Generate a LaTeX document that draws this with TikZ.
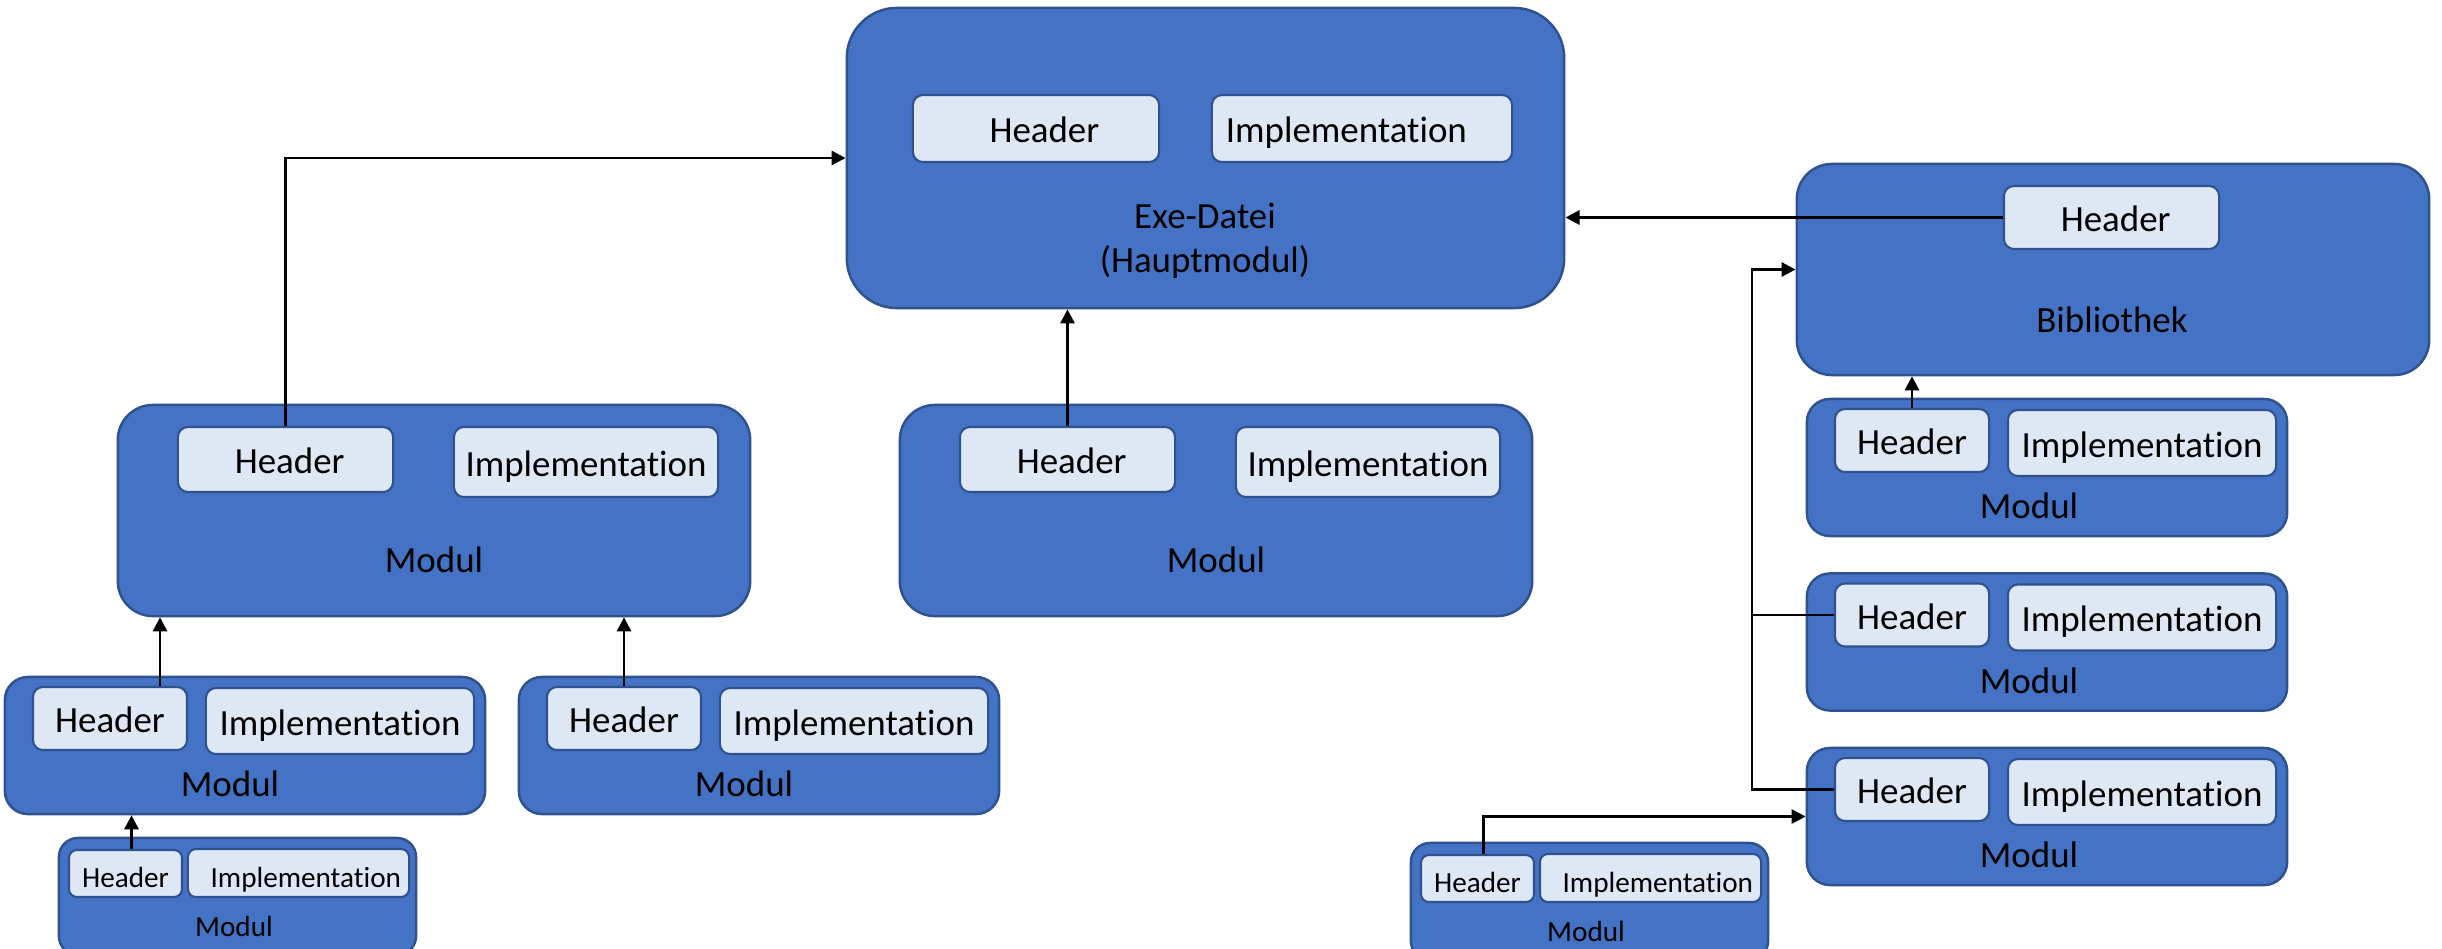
\documentclass[tikz,border=0pt]{standalone}
\usepackage{fontspec}
\setmainfont{Carlito}[Ligatures=NoCommon]
\usetikzlibrary{arrows.meta}

\definecolor{modblue}{HTML}{4472C4}
\definecolor{modedge}{HTML}{2F528F}
\definecolor{partfill}{HTML}{DEE8F5}

\newcommand{\modfont}{\fontsize{10.5}{12.4}\selectfont}
\newcommand{\modfontsmall}{\fontsize{8.3}{10}\selectfont}

\begin{document}
\begin{tikzpicture}[x=0.01cm,y=-0.01cm,
    modbox/.style={draw=modedge,fill=modblue,line width=0.7pt,inner sep=0pt},
    partbox/.style={draw=modedge,fill=partfill,line width=0.6pt,inner sep=0pt,
                    rounded corners=0.1cm,font=\modfont,text height=1em,text depth=0.2em},
    lbl/.style={inner sep=0pt,font=\modfont},
    arr/.style={line width=0.8pt,-{Triangle[length=4pt,width=4pt]}}]
  \useasboundingbox (0,0) rectangle (2442,948);

  % main executable
  \node[modbox,rounded corners=0.5cm,minimum width=7.17cm,minimum height=3cm]
        (exe) at (1205.5,158) {};
  \node[partbox,minimum width=2.46cm,minimum height=0.67cm] (exeH) at (1036,128.5) {~~Header};
  \node[partbox,minimum width=3cm,minimum height=0.67cm,text width=2.72cm,align=left]
        (exeI) at (1362,128.5) {Implementation};
  \node[lbl,align=center] (exeL) at (1205,241) {Exe-Datei\\(Hauptmodul)};

  % library, only its header is visible
  \node[modbox,rounded corners=0.35cm,minimum width=6.32cm,minimum height=2.11cm]
        (bib) at (2113,269.5) {};
  \node[partbox,minimum width=2.15cm,minimum height=0.63cm] (bibH) at (2111.5,217.5) {~Header};
  \node[lbl] (bibL) at (2112,320) {Bibliothek};

  % big modules below the exe
  \node[modbox,rounded corners=0.35cm,minimum width=6.32cm,minimum height=2.11cm]
        (mL) at (434,510.5) {};
  \node[partbox,minimum width=2.15cm,minimum height=0.65cm] (mLH) at (285.5,459.5) {~Header};
  \node[partbox,minimum width=2.64cm,minimum height=0.7cm] (mLI) at (586,462) {Implementation};
  \node[lbl] (mLL) at (434,560) {Modul};

  \node[modbox,rounded corners=0.35cm,minimum width=6.32cm,minimum height=2.11cm]
        (mM) at (1216,510.5) {};
  \node[partbox,minimum width=2.15cm,minimum height=0.65cm] (mMH) at (1067.5,459.5) {~Header};
  \node[partbox,minimum width=2.64cm,minimum height=0.7cm] (mMI) at (1368,462) {Implementation};
  \node[lbl] (mML) at (1216,560) {Modul};

  % modules under the left one
  \node[modbox,rounded corners=0.23cm,minimum width=4.8cm,minimum height=1.37cm]
        (mL1) at (245,745.5) {};
  \node[partbox,minimum width=1.54cm,minimum height=0.63cm] (mL1H) at (110,718.5) {Header};
  \node[partbox,minimum width=2.68cm,minimum height=0.66cm] (mL1I) at (340,721) {Implementation};
  \node[lbl] (mL1L) at (230,784) {Modul};

  \node[modbox,rounded corners=0.23cm,minimum width=4.8cm,minimum height=1.37cm]
        (mL2) at (759,745.5) {};
  \node[partbox,minimum width=1.54cm,minimum height=0.63cm] (mL2H) at (624,718.5) {Header};
  \node[partbox,minimum width=2.68cm,minimum height=0.66cm] (mL2I) at (854,721) {Implementation};
  \node[lbl] (mL2L) at (744,784) {Modul};

  % stack of modules using the library
  \foreach \i/\t in {1/399,2/573.5,3/748} {
    \node[modbox,rounded corners=0.23cm,minimum width=4.8cm,minimum height=1.37cm]
          (mR\i) at (2047,\t+68.5) {};
    \node[partbox,minimum width=1.54cm,minimum height=0.63cm] (mR\i H) at (1912,\t+41.5) {Header};
    \node[partbox,minimum width=2.68cm,minimum height=0.66cm] (mR\i I) at (2142,\t+44) {Implementation};
    \node[lbl] (mR\i L) at (2029,\t+107) {Modul};
  }

  % small modules at the bottom
  \node[modbox,rounded corners=0.19cm,minimum width=3.57cm,minimum height=1.17cm]
        (mS1) at (237.5,896.5) {};
  \node[partbox,font=\modfontsmall,rounded corners=0.08cm,minimum width=1.13cm,minimum height=0.47cm]
        (mS1H) at (125.5,873.5) {Header};
  \node[partbox,font=\modfontsmall,rounded corners=0.08cm,minimum width=2.21cm,minimum height=0.48cm,
        text width=2.05cm,align=right] (mS1I) at (298.5,873) {Implementation};
  \node[lbl,font=\modfontsmall] (mS1L) at (234,926) {Modul};

  \node[modbox,rounded corners=0.19cm,minimum width=3.57cm,minimum height=1.17cm]
        (mS2) at (1589.5,901.5) {};
  \node[partbox,font=\modfontsmall,rounded corners=0.08cm,minimum width=1.13cm,minimum height=0.47cm]
        (mS2H) at (1477.5,878.5) {Header};
  \node[partbox,font=\modfontsmall,rounded corners=0.08cm,minimum width=2.21cm,minimum height=0.48cm,
        text width=2.05cm,align=right] (mS2I) at (1650.5,878) {Implementation};
  \node[lbl,font=\modfontsmall] (mS2L) at (1586,931) {Modul};

  % dependencies
  \draw[arr] (mLH.north) |- (exe.west);
  \draw[arr] (mMH.north) -- (mMH.north |- exe.south);
  \draw[arr] (bibH.west) -- (bibH.west -| exe.east);
  \draw[arr] (mR1H.north) -- (mR1H.north |- bib.south);
  \coordinate (bus) at (1752,269.5);
  \draw[arr] (mR3H.west) -| (bus) -- (bib.west);
  \draw[line width=0.8pt] (mR2H.west) -- (mR2H.west -| bus);
  \draw[arr] ([xshift=0.5cm]mL1H.north) -- ([xshift=0.5cm]mL1H.north |- mL.south);
  \draw[arr] (mL2H.north) -- (mL2H.north |- mL.south);
  \draw[arr] ([xshift=0.06cm]mS1H.north) -- ([xshift=0.06cm]mS1H.north |- mL1.south);
  \draw[arr] ([xshift=0.06cm]mS2H.north) |- (mR3.west);
\end{tikzpicture}
\end{document}
